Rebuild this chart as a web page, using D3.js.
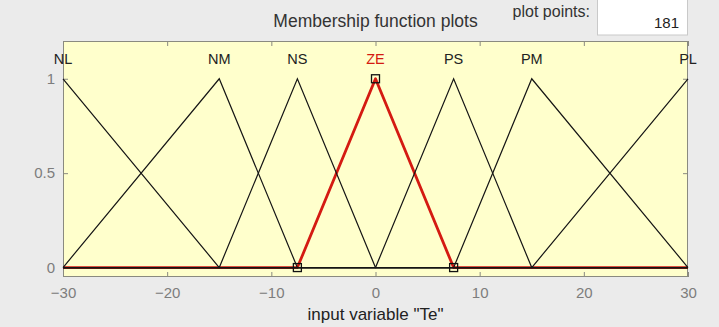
<!DOCTYPE html>
<html>
<head>
<meta charset="utf-8">
<script src="https://cdn.jsdelivr.net/npm/d3@7"></script>
<style>
  html, body { margin: 0; padding: 0; background: #ebebeb; }
  svg { display: block; }
  text { font-family: "Liberation Sans", Arial, sans-serif; }
</style>
</head>
<body>
<svg id="chart" width="719" height="327"></svg>
<script>
// Input variable "Te": triangular membership functions [a, b, c]
const mfNames = ["NL", "NM", "NS", "ZE", "PS", "PM", "PL"];
const mfParams = [
  [-45, -30, -15],
  [-30, -15, -7.5],
  [-15, -7.5, 0],
  [-7.5, 0, 7.5],
  [0, 7.5, 15],
  [7.5, 15, 30],
  [15, 30, 45]
];
const selectedMf = "ZE";
const xRange = [-30, 30];
const xTicks = [-30, -20, -10, 0, 10, 20, 30];
const yTicks = [0, 0.5, 1];
const yTickLabels = ["0", "0.5", "1"];
const plotPoints = 181;
const variableName = "Te";

const svg = d3.select("#chart");
const W = 719, H = 327;
const M = { left: 63, right: 688, top: 41, bottom: 277 };

const x = d3.scaleLinear().domain(xRange).range([M.left, M.right]);
const y = d3.scaleLinear().domain([-0.05, 1.2]).range([M.bottom, M.top]);

// triangular membership value
function trimf(v, [a, b, c]) {
  if (v <= a || v >= c) return (v === b) ? 1 : 0;
  return v <= b ? (v - a) / (b - a) : (c - v) / (c - b);
}
// vertices of each MF over the universe of discourse
function vertices(p) {
  const xs = [xRange[0], ...p.filter(v => v > xRange[0] && v < xRange[1]), xRange[1]];
  return xs.map(v => [v, trimf(v, p)]);
}

svg.append("rect").attr("width", W).attr("height", H).attr("fill", "#ebebeb");

// header
svg.append("text")
  .attr("x", 375.5).attr("y", 27)
  .attr("text-anchor", "middle")
  .attr("font-size", 17.5).attr("fill", "#333")
  .text("Membership function plots");
svg.append("text")
  .attr("x", 590).attr("y", 17)
  .attr("text-anchor", "end")
  .attr("font-size", 16).attr("fill", "#333")
  .text("plot points:");
svg.append("rect")
  .attr("x", 597.5).attr("y", -1).attr("width", 90).attr("height", 36)
  .attr("fill", "#fff").attr("stroke", "#c9c9c9");
svg.append("text")
  .attr("x", 679).attr("y", 28)
  .attr("text-anchor", "end")
  .attr("font-size", 15).attr("fill", "#222")
  .text(String(plotPoints));

// plot area
svg.append("rect")
  .attr("x", M.left).attr("y", M.top)
  .attr("width", M.right - M.left).attr("height", M.bottom - M.top)
  .attr("fill", "#ffffcc");

// axes
const gx = svg.append("g").attr("transform", `translate(0,${M.bottom})`)
  .call(d3.axisBottom(x).tickValues(xTicks).tickSizeInner(-5).tickSizeOuter(0).tickPadding(10));
const gxt = svg.append("g").attr("transform", `translate(0,${M.top})`)
  .call(d3.axisTop(x).tickValues(xTicks).tickSizeInner(-5).tickSizeOuter(0).tickFormat(""));
const gy = svg.append("g").attr("transform", `translate(${M.left},0)`)
  .call(d3.axisLeft(y).tickValues(yTicks).tickSizeInner(-5).tickSizeOuter(0).tickPadding(8)
    .tickFormat((d, i) => yTickLabels[i]));
const gyr = svg.append("g").attr("transform", `translate(${M.right},0)`)
  .call(d3.axisRight(y).tickValues(yTicks).tickSizeInner(-5).tickSizeOuter(0).tickFormat(""));

[gx, gxt, gy, gyr].forEach(g => {
  g.select(".domain").remove();
  g.selectAll(".tick line").attr("stroke", "#8a8a80");
  g.selectAll(".tick text")
    .attr("font-family", "'Liberation Sans', Arial, sans-serif")
    .attr("font-size", 15).attr("fill", "#7d7d7d");
});

svg.append("rect")
  .attr("x", M.left + 0.5).attr("y", M.top + 0.5)
  .attr("width", M.right - M.left - 1).attr("height", M.bottom - M.top - 1)
  .attr("fill", "none").attr("stroke", "#8a8a80");

const line = d3.line().x(d => x(d[0])).y(d => y(d[1]));

// selected MF in red, others in black on top
const sel = mfNames.indexOf(selectedMf);
svg.append("path")
  .attr("d", line(vertices(mfParams[sel])))
  .attr("fill", "none").attr("stroke", "#d41a12").attr("stroke-width", 2.8)
  .attr("stroke-linejoin", "round");

mfParams.forEach((p, i) => {
  if (i === sel) return;
  svg.append("path")
    .attr("d", line(vertices(p)))
    .attr("fill", "none").attr("stroke", "#151515").attr("stroke-width", 1.2);
});

// handles on the selected MF
svg.selectAll("rect.handle")
  .data(mfParams[sel].map(v => [v, trimf(v, mfParams[sel])]))
  .join("rect").attr("class", "handle")
  .attr("x", d => x(d[0]) - 4).attr("y", d => y(d[1]) - 4)
  .attr("width", 8).attr("height", 8)
  .attr("fill", "none").attr("stroke", "#111").attr("stroke-width", 1.3);

// MF names above their peaks
svg.selectAll("text.mf")
  .data(mfNames)
  .join("text").attr("class", "mf")
  .attr("x", (d, i) => x(mfParams[i][1]))
  .attr("y", 64)
  .attr("text-anchor", "middle")
  .attr("font-size", 14.5)
  .attr("fill", (d, i) => i === sel ? "#d41a12" : "#222")
  .text(d => d);

// x-axis title
svg.append("text")
  .attr("x", 375.5).attr("y", 320)
  .attr("text-anchor", "middle")
  .attr("font-size", 17).attr("fill", "#222")
  .text(`input variable "${variableName}"`);
</script>
</body>
</html>
